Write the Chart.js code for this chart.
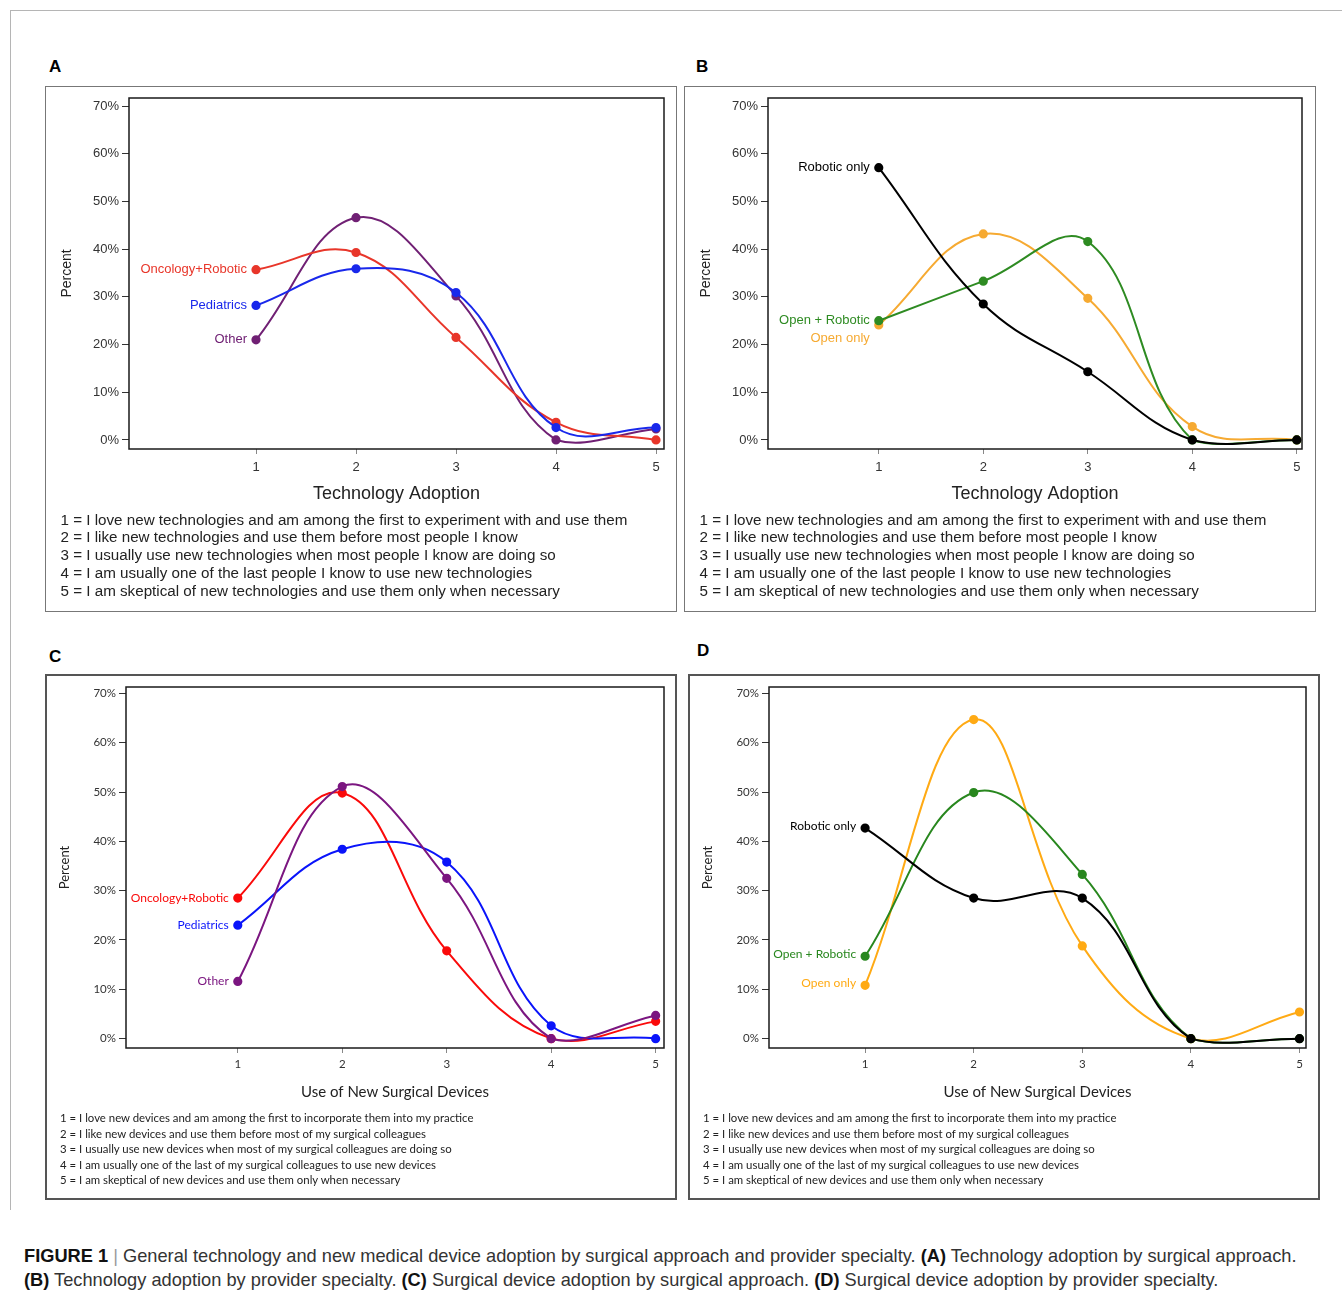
<!DOCTYPE html>
<html>
<head>
<meta charset="utf-8">
<script src="https://cdn.jsdelivr.net/npm/chart.js@4.4.1/dist/chart.umd.min.js"></script>
<style>
    body {
        margin: 0;
        background: #fff;
    }

    #page {
        position: relative;
        width: 1342px;
        height: 1296px;
        overflow: hidden;
        font-family: 'Liberation Sans', Arial, sans-serif;
    }

    .frame-top {
        position: absolute;
        left: 10px;
        top: 10px;
        width: 1340px;
        height: 1px;
        background: #b5b5b5;
    }

    .frame-left {
        position: absolute;
        left: 10px;
        top: 10px;
        width: 1px;
        height: 1200px;
        background: #b5b5b5;
    }

    .letter {
        position: absolute;
        font-weight: bold;
        font-size: 17px;
        line-height: 20px;
        color: #000;
    }

    .panel {
        position: absolute;
        box-sizing: border-box;
        width: 632px;
        height: 526px;
        border: 1.5px solid #777;
    }

    .panel.dark {
        border: 2px solid #555;
    }

    .panel canvas {
        position: absolute;
        left: -1.5px;
        top: -1.5px;
    }

    .notes {
        position: absolute;
        white-space: nowrap;
        color: #222;
    }

    .notes.tech {
        left: 14.5px;
        top: 423.5px;
        font-size: 15.2px;
        line-height: 17.8px;
    }

    .notes.device {
        left: 13px;
        top: 434px;
        font-family: Lato, 'Open Sans', sans-serif;
        font-size: 11.4px;
        line-height: 15.5px;
    }

    #caption {
        position: absolute;
        left: 24px;
        top: 1244px;
        white-space: nowrap;
        font-size: 19px;
        line-height: 24px;
        color: #333;
        transform: scaleX(0.96);
        transform-origin: 0 0;
    }

    #caption b {
        color: #111;
    }

    #caption .bar {
        color: #999;
    }
</style>
</head>
<body>
<div id="page">
    <div class="frame-top"></div>
    <div class="frame-left"></div>

    <div class="letter" style="left:49px; top:57px;">A</div>
    <div class="letter" style="left:696px; top:57px;">B</div>
    <div class="letter" style="left:49px; top:647px;">C</div>
    <div class="letter" style="left:697px; top:641px;">D</div>

    <div class="panel" id="boxA" style="left:45px; top:86px;">
        <canvas id="chartA" width="632" height="526"></canvas>
        <div class="notes tech" id="notesA"></div>
    </div>
    <div class="panel" id="boxB" style="left:684px; top:86px;">
        <canvas id="chartB" width="632" height="526"></canvas>
        <div class="notes tech" id="notesB"></div>
    </div>
    <div class="panel dark" id="boxC" style="left:45px; top:674px;">
        <canvas id="chartC" width="632" height="526"></canvas>
        <div class="notes device" id="notesC"></div>
    </div>
    <div class="panel dark" id="boxD" style="left:688px; top:674px;">
        <canvas id="chartD" width="632" height="526"></canvas>
        <div class="notes device" id="notesD"></div>
    </div>

    <div id="caption">
        <b>FIGURE 1</b> <span class="bar">|</span> General technology and new medical device adoption by surgical approach and provider specialty. <b>(A)</b> Technology adoption by surgical approach.<br>
        <b>(B)</b> Technology adoption by provider specialty. <b>(C)</b> Surgical device adoption by surgical approach. <b>(D)</b> Surgical device adoption by provider specialty.
    </div>
</div>

<script>
    // ---- data ----
    var adoptionLevels = [1, 2, 3, 4, 5];
    var percentTicks = [0, 10, 20, 30, 40, 50, 60, 70];

    // A: technology adoption
    var techOncologyRobotic = [35.7, 39.3, 21.5, 3.7, 0];
    var techPediatrics = [28.2, 35.9, 30.9, 2.6, 2.6];
    var techOther = [21.0, 46.6, 30.2, 0, 2.3];

    // B: technology adoption
    var techRoboticOnly = [57.1, 28.5, 14.3, 0, 0];
    var techOpenRobotic = [25.0, 33.3, 41.6, 0, 0];
    var techOpenOnly = [24.1, 43.2, 29.7, 2.8, 0];

    // C: surgical device adoption
    var deviceOncologyRobotic = [28.5, 49.8, 17.8, 0, 3.5];
    var devicePediatrics = [23.0, 38.4, 35.8, 2.6, 0];
    var deviceOther = [11.6, 51.1, 32.5, 0, 4.7];

    // D: surgical device adoption
    var deviceRoboticOnly = [42.7, 28.5, 28.5, 0, 0];
    var deviceOpenRobotic = [16.7, 49.9, 33.3, 0, 0];
    var deviceOpenOnly = [10.8, 64.7, 18.8, 0, 5.4];

    var techNotes = [
        '1 = I love new technologies and am among the first to experiment with and use them',
        '2 = I like new technologies and use them before most people I know',
        '3 = I usually use new technologies when most people I know are doing so',
        '4 = I am usually one of the last people I know to use new technologies',
        '5 = I am skeptical of new technologies and use them only when necessary'
    ];
    var deviceNotes = [
        '1 = I love new devices and am among the first to incorporate them into my practice',
        '2 = I like new devices and use them before most of my surgical colleagues',
        '3 = I usually use new devices when most of my surgical colleagues are doing so',
        '4 = I am usually one of the last of my surgical colleagues to use new devices',
        '5 = I am skeptical of new devices and use them only when necessary'
    ];

    // ---- drawing ----
    var ARIAL = "'Liberation Sans', Arial, sans-serif";
    var CALIBRI = "Lato, 'Open Sans', sans-serif";

    // frame round the plot, series names at the first point, axis titles
    var panelText = {
        id: 'panelText',
        afterDatasetsDraw: function (chart, args, opts) {
            var ctx = chart.ctx;
            var a = chart.chartArea;
            ctx.save();

            ctx.strokeStyle = '#1a1a1a';
            ctx.lineWidth = 1.5;
            ctx.strokeRect(a.left, a.top, a.right - a.left, a.bottom - a.top);

            ctx.textAlign = 'right';
            ctx.textBaseline = 'middle';
            ctx.font = opts.labelFont;
            chart.data.datasets.forEach(function (ds, i) {
                var first = chart.getDatasetMeta(i).data[0];
                ctx.fillStyle = ds.borderColor;
                ctx.fillText(ds.label, first.x - 9, first.y + (ds.labelDy || 0));
            });

            ctx.fillStyle = '#222';
            ctx.textAlign = 'center';
            ctx.font = opts.xTitleFont;
            ctx.fillText(opts.xTitle, (a.left + a.right) / 2, a.bottom + opts.xTitleGap);

            ctx.translate(opts.yTitleX, (a.top + a.bottom) / 2);
            ctx.rotate(-Math.PI / 2);
            ctx.font = opts.yTitleFont;
            ctx.fillText('Percent', 0, 0);
            ctx.restore();
        }
    };

    function drawPanel(p) {
        var W = 632, H = 526, xAxisH = 30;
        var canvas = document.getElementById(p.canvas);

        document.getElementById(p.notesId).innerHTML = p.notes.join('<br>');

        new Chart(canvas, {
            type: 'line',
            data: {
                datasets: p.series.map(function (s) {
                    return {
                        label: s.name,
                        data: adoptionLevels.map(function (x, i) { return { x: x, y: s.values[i] }; }),
                        borderColor: s.color,
                        backgroundColor: s.color,
                        pointBackgroundColor: s.color,
                        pointBorderColor: s.color,
                        borderWidth: 2,
                        pointRadius: 3.6,
                        tension: 0.4,
                        fill: false,
                        labelDy: s.dy || 0
                    };
                })
            },
            options: {
                responsive: false,
                animation: false,
                events: [],
                layout: {
                    padding: { left: 0, top: p.area.top, right: W - p.area.right, bottom: H - p.area.bottom - xAxisH }
                },
                plugins: {
                    legend: { display: false },
                    tooltip: { enabled: false },
                    panelText: {
                        labelFont: p.labelFont,
                        xTitle: p.xTitle,
                        xTitleFont: p.xTitleFont,
                        xTitleGap: p.xTitleGap,
                        yTitleFont: p.yTitleFont,
                        yTitleX: p.yTitleX
                    }
                },
                scales: {
                    x: {
                        type: 'linear',
                        min: p.xMin,
                        max: p.xMax,
                        afterBuildTicks: function (scale) {
                            scale.ticks = adoptionLevels.map(function (v) { return { value: v }; });
                        },
                        afterFit: function (scale) { scale.height = xAxisH; },
                        border: { display: false },
                        grid: { drawOnChartArea: false, drawTicks: true, tickLength: 5, tickColor: '#888', tickWidth: 1 },
                        ticks: { color: '#333', font: { family: p.tickFamily, size: p.tickSize }, padding: p.xTickPad, maxRotation: 0, autoSkip: false }
                    },
                    y: {
                        min: p.yMin,
                        max: p.yMax,
                        afterBuildTicks: function (scale) {
                            scale.ticks = percentTicks.map(function (v) { return { value: v }; });
                        },
                        afterFit: function (scale) { scale.width = p.area.left; },
                        border: { display: false },
                        grid: { drawOnChartArea: false, drawTicks: true, tickLength: 7, tickColor: '#333', tickWidth: 1 },
                        ticks: {
                            color: '#333',
                            font: { family: p.tickFamily, size: p.tickSize },
                            padding: 3,
                            autoSkip: false,
                            callback: function (v) { return v + '%'; }
                        }
                    }
                }
            },
            plugins: [panelText]
        });
    }

    var techStyle = {
        area: { left: 84, top: 12, right: 619, bottom: 363 },
        yMin: -1.9, yMax: 71.7,
        tickFamily: ARIAL, tickSize: 13, xTickPad: 6,
        labelFont: '13px ' + ARIAL,
        xTitle: 'Technology Adoption', xTitleFont: '18px ' + ARIAL, xTitleGap: 45,
        yTitleFont: '14px ' + ARIAL, yTitleX: 22,
        notes: techNotes
    };
    var deviceStyle = {
        area: { left: 80, top: 12, right: 618, bottom: 373 },
        yMin: -1.9, yMax: 71.3,
        tickFamily: CALIBRI, tickSize: 11.5, xTickPad: 4,
        labelFont: '12px ' + CALIBRI,
        xTitle: 'Use of New Surgical Devices', xTitleFont: '15px ' + CALIBRI, xTitleGap: 44,
        yTitleFont: '13px ' + CALIBRI, yTitleX: 19,
        notes: deviceNotes
    };

    drawPanel(Object.assign({}, techStyle, {
        canvas: 'chartA', notesId: 'notesA', xMin: -0.27, xMax: 5.08,
        series: [
            { name: 'Pediatrics', values: techPediatrics, color: 'rgb(25, 40, 235)' },
            { name: 'Oncology+Robotic', values: techOncologyRobotic, color: 'rgb(232, 54, 42)' },
            { name: 'Other', values: techOther, color: 'rgb(112, 32, 116)' }
        ]
    }));

    drawPanel(Object.assign({}, techStyle, {
        canvas: 'chartB', notesId: 'notesB', xMin: -0.06, xMax: 5.05,
        area: { left: 84, top: 12, right: 618, bottom: 363 },
        series: [
            { name: 'Robotic only', values: techRoboticOnly, color: 'rgb(0, 0, 0)' },
            { name: 'Open + Robotic', values: techOpenRobotic, color: 'rgb(46, 139, 34)' },
            { name: 'Open only', values: techOpenOnly, color: 'rgb(246, 170, 50)', dy: 13 }
        ]
    }));

    drawPanel(Object.assign({}, deviceStyle, {
        canvas: 'chartC', notesId: 'notesC', xMin: -0.07, xMax: 5.08,
        series: [
            { name: 'Other', values: deviceOther, color: 'rgb(123, 22, 128)' },
            { name: 'Pediatrics', values: devicePediatrics, color: 'rgb(10, 20, 250)' },
            { name: 'Oncology+Robotic', values: deviceOncologyRobotic, color: 'rgb(250, 10, 10)' }
        ]
    }));

    drawPanel(Object.assign({}, deviceStyle, {
        canvas: 'chartD', notesId: 'notesD', xMin: 0.115, xMax: 5.06,
        area: { left: 80, top: 12, right: 617, bottom: 373 },
        series: [
            { name: 'Robotic only', values: deviceRoboticOnly, color: 'rgb(0, 0, 0)', dy: -2 },
            { name: 'Open + Robotic', values: deviceOpenRobotic, color: 'rgb(40, 135, 30)', dy: -2 },
            { name: 'Open only', values: deviceOpenOnly, color: 'rgb(255, 170, 20)', dy: -2 }
        ]
    }));
</script>
</body>
</html>
